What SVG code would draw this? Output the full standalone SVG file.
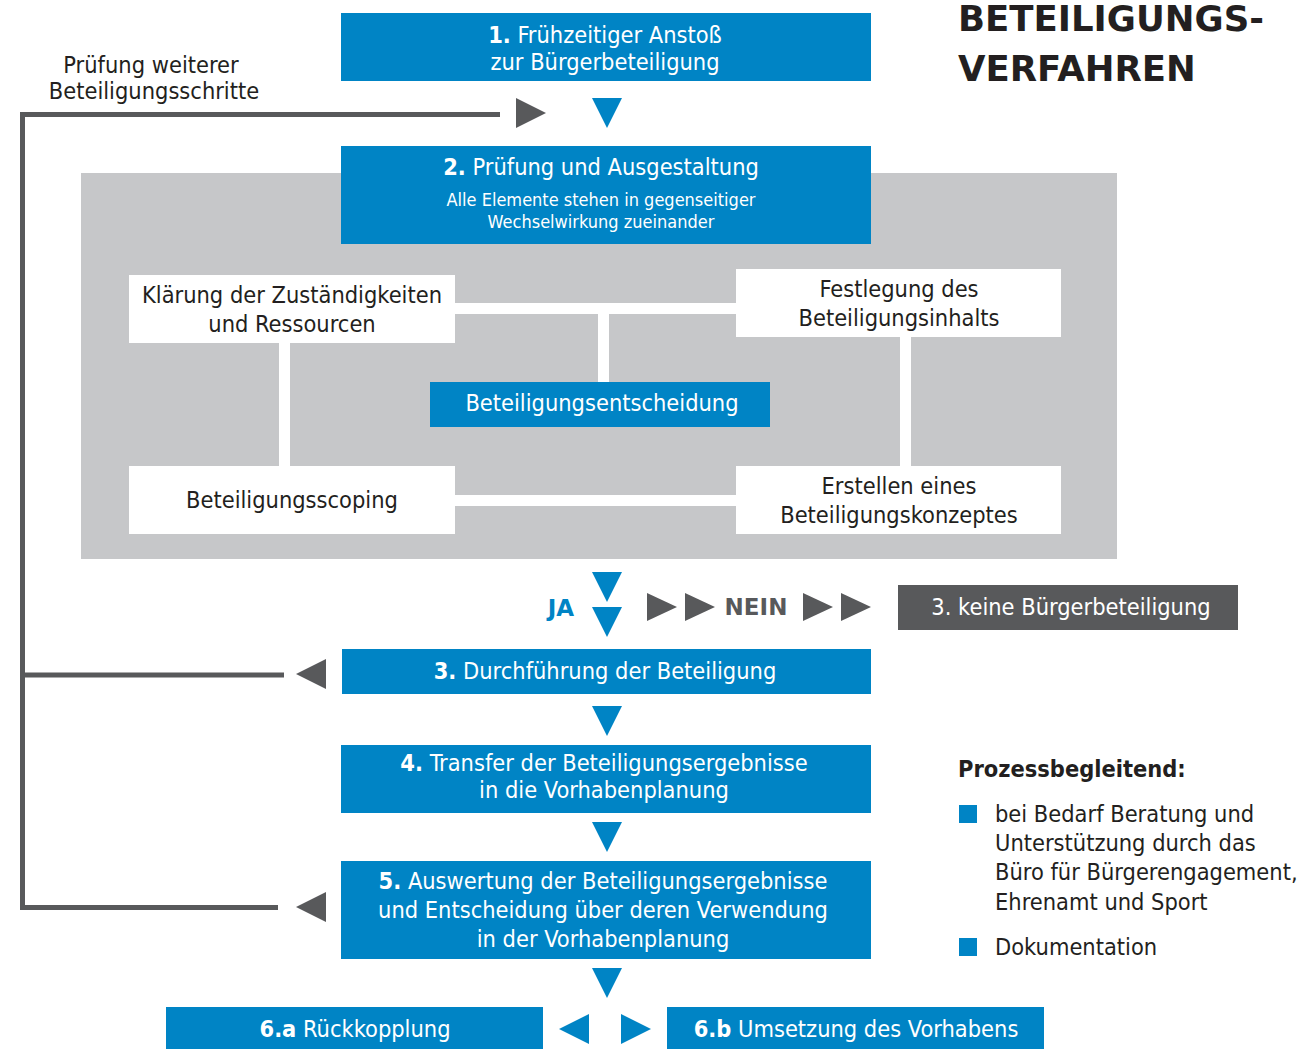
<svg xmlns="http://www.w3.org/2000/svg" width="1299" height="1049" viewBox="0 0 1299 1049">
<style>
text{font-family:"DejaVu Sans Condensed","DejaVu Sans",sans-serif;}
.bl{fill:#0084C5;}
.wb{fill:#FFFFFF;}
.wt{fill:#FFFFFF;font-size:23.4px;text-anchor:middle;}
.ws{fill:#FFFFFF;font-size:18px;text-anchor:middle;}
.dt{fill:#231F20;font-size:23.4px;text-anchor:middle;}
.lt{fill:#231F20;font-size:23.4px;}
.b{font-weight:bold;}
.hd{font-family:"DejaVu Sans",sans-serif;font-weight:bold;}
.gtri{fill:#58595B;}
.btri{fill:#0084C5;}
.fb{fill:none;stroke:#58595B;stroke-width:5;}
.wc{fill:#FFFFFF;}
</style>
<rect x="81" y="173" width="1036" height="386" fill="#C6C7C9"/>

<g id="connectors">
  <path class="fb" d="M500 114.5 H22.5 V907.5 H278 M22.5 675 H284"/>
  <polygon class="gtri" points="516,98 546,113 516,128"/>
  <polygon class="btri" points="592,98 622,98 607,128"/>
  <polygon class="gtri" points="326,659 296,674 326,689"/>
  <polygon class="gtri" points="326,892 296,907 326,922"/>
  <rect class="wc" x="455" y="303" width="281" height="11"/>
  <rect class="wc" x="598" y="313" width="11" height="70"/>
  <rect class="wc" x="279" y="342" width="11" height="125"/>
  <rect class="wc" x="900" y="336" width="11" height="131"/>
  <rect class="wc" x="455" y="495" width="281" height="11"/>
  <polygon class="btri" points="592,572 622,572 607,602"/>
  <polygon class="btri" points="592,607 622,607 607,637"/>
  <polygon class="gtri" points="647,593 677,607 647,621"/>
  <polygon class="gtri" points="685,593 715,607 685,621"/>
  <polygon class="gtri" points="803,593 833,607 803,621"/>
  <polygon class="gtri" points="841,593 871,607 841,621"/>
  <polygon class="btri" points="592,706 622,706 607,736"/>
  <polygon class="btri" points="592,822 622,822 607,852"/>
  <polygon class="btri" points="592,968 622,968 607,998"/>
  <polygon class="btri" points="589,1014 559,1029 589,1044"/>
  <polygon class="btri" points="621,1014 651,1029 621,1044"/>
  <text class="hd" x="561" y="616" font-size="23" fill="#0084C5" text-anchor="middle">JA</text>
  <text class="hd" x="756" y="615" font-size="23" fill="#58595B" text-anchor="middle">NEIN</text>
</g>

<g id="title">
  <text class="hd" x="958" y="31" font-size="35.5" fill="#231F20">BETEILIGUNGS-</text>
  <text class="hd" x="958" y="81" font-size="35.5" fill="#231F20">VERFAHREN</text>
</g>

<g id="label-pruefung">
  <text class="dt" x="151" y="73">Prüfung weiterer</text>
  <text class="dt" x="154" y="99">Beteiligungsschritte</text>
</g>

<g id="step1">
  <rect class="bl" x="341" y="13" width="530" height="68"/>
  <text class="wt" x="605" y="43"><tspan class="b">1.</tspan> Frühzeitiger Anstoß</text>
  <text class="wt" x="605" y="70">zur Bürgerbeteiligung</text>
</g>

<g id="step2">
  <rect class="bl" x="341" y="146" width="530" height="98"/>
  <text class="wt" x="601" y="175"><tspan class="b">2.</tspan> Prüfung und Ausgestaltung</text>
  <text class="ws" x="601" y="206">Alle Elemente stehen in gegenseitiger</text>
  <text class="ws" x="601" y="228">Wechselwirkung zueinander</text>
</g>

<g id="klaerung">
  <rect class="wb" x="129" y="275" width="326" height="68"/>
  <text class="dt" x="292" y="303">Klärung der Zuständigkeiten</text>
  <text class="dt" x="292" y="332">und Ressourcen</text>
</g>

<g id="festlegung">
  <rect class="wb" x="736" y="269" width="325" height="68"/>
  <text class="dt" x="899" y="297">Festlegung des</text>
  <text class="dt" x="899" y="326">Beteiligungsinhalts</text>
</g>

<g id="entscheidung">
  <rect class="bl" x="430" y="382" width="340" height="45"/>
  <text class="wt" x="602" y="411">Beteiligungsentscheidung</text>
</g>

<g id="scoping">
  <rect class="wb" x="129" y="466" width="326" height="68"/>
  <text class="dt" x="292" y="508">Beteiligungsscoping</text>
</g>

<g id="konzept">
  <rect class="wb" x="736" y="466" width="325" height="68"/>
  <text class="dt" x="899" y="494">Erstellen eines</text>
  <text class="dt" x="899" y="523">Beteiligungskonzeptes</text>
</g>

<g id="keine">
  <rect x="898" y="585" width="340" height="45" fill="#58595B"/>
  <text class="wt" x="1071" y="615">3. keine Bürgerbeteiligung</text>
</g>

<g id="step3">
  <rect class="bl" x="342" y="649" width="529" height="45"/>
  <text class="wt" x="605" y="679"><tspan class="b">3.</tspan> Durchführung der Beteiligung</text>
</g>

<g id="step4">
  <rect class="bl" x="341" y="745" width="530" height="68"/>
  <text class="wt" x="604" y="771"><tspan class="b">4.</tspan> Transfer der Beteiligungsergebnisse</text>
  <text class="wt" x="604" y="798">in die Vorhabenplanung</text>
</g>

<g id="step5">
  <rect class="bl" x="341" y="861" width="530" height="98"/>
  <text class="wt" x="603" y="889"><tspan class="b">5.</tspan> Auswertung der Beteiligungsergebnisse</text>
  <text class="wt" x="603" y="918">und Entscheidung über deren Verwendung</text>
  <text class="wt" x="603" y="947">in der Vorhabenplanung</text>
</g>

<g id="step6a">
  <rect class="bl" x="166" y="1007" width="377" height="42"/>
  <text class="wt" x="355" y="1037"><tspan class="b">6.a</tspan> Rückkopplung</text>
</g>

<g id="step6b">
  <rect class="bl" x="667" y="1007" width="377" height="42"/>
  <text class="wt" x="856" y="1037"><tspan class="b">6.b</tspan> Umsetzung des Vorhabens</text>
</g>

<g id="legend">
  <text class="lt b" x="958" y="777">Prozessbegleitend:</text>
  <rect class="bl" x="959" y="805" width="18" height="18"/>
  <text class="lt" x="995" y="822">bei Bedarf Beratung und</text>
  <text class="lt" x="995" y="851">Unterstützung durch das</text>
  <text class="lt" x="995" y="880">Büro für Bürgerengagement,</text>
  <text class="lt" x="995" y="910">Ehrenamt und Sport</text>
  <rect class="bl" x="959" y="938" width="18" height="18"/>
  <text class="lt" x="995" y="955">Dokumentation</text>
</g>
</svg>
